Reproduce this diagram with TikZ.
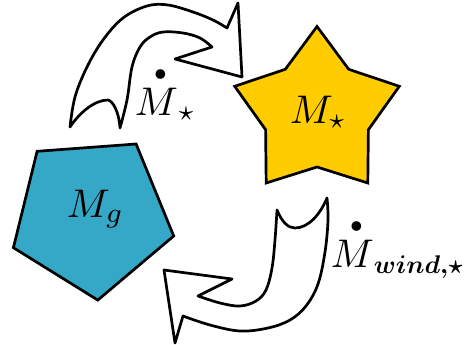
\documentclass[tikz,border=0pt]{standalone}
\usepackage{amsmath}
\usepackage{graphicx}
\definecolor{pentblue}{RGB}{54,168,199}
\definecolor{stargold}{RGB}{255,204,0}
\newcommand{\bigdotacc}[1]{\overset{\scriptscriptstyle\kern2pt\bullet}{#1}}
\newcommand{\subbold}[1]{\scalebox{0.64}{$\boldsymbol{#1}$}}
\begin{document}
\begin{tikzpicture}[x=1pt,y=-1pt,
  outl/.style={draw=black,line width=2.7pt,line join=miter},
  comic/.style={outl,fill=white,line join=round},
  lbl/.style={inner sep=0pt,anchor=base west,scale=4,font=\fontsize{10}{12}\selectfont}]
\useasboundingbox (0,0) rectangle (474,345);
% pentagon (gas)
\draw[outl,fill=pentblue] (97.8,300.1) -- (13.4,247.7) -- (37.1,151.3) -- (136.1,144.0) -- (173.7,236.0) -- cycle;
% star
\draw[outl,fill=stargold] (317,26.5) -- (348.7,69.3) -- (399.3,86.3) -- (368.4,129.7) -- (367.8,183.0) -- (317,167) -- (266.2,183.0) -- (265.6,129.7) -- (234.7,86.3) -- (285.3,69.3) -- cycle;
% upper arrow (gas -> stars)
\draw[comic] (70,127) -- plot[smooth,tension=0.6] coordinates {(70,127) (75,97) (87,67) (103,40) (123,18) (147,6) (168,5) (193,12) (213,20) (227,28)}
  -- (238,3) -- (242,77) -- (175,59)
  -- plot[smooth,tension=0.6] coordinates {(212,47) (200,38) (183,33) (163,32) (150,37) (140,47) (132,67) (127,100) (120,128)}
  .. controls (119,112) and (113,101) .. (108,100) .. controls (95,100) and (80,112) .. cycle;
% lower arrow (stars -> gas)
\draw[comic] (277,210) .. controls (282,222) and (288,228) .. (295,228) .. controls (308,228) and (320,215) .. (327,198)
  -- plot[smooth,tension=0.6] coordinates {(327,198) (328,220) (325,252) (318,284) (306,306) (290,320) (268,328) (240,331) (210,325) (183,316)}
  -- (175,343) -- (164,270) -- (232,279)
  -- plot[smooth,tension=0.6] coordinates {(198,296) (220,303) (240,306) (256,301) (266,290) (272,268) (275,240) (277,210)}
  -- cycle;
% labels
\node[lbl] (mg) at (66,217) {$M_g$};
\node[lbl] (ms) at (289,123) {$M_\star$};
\node[lbl] (mdot) at (134,115) {${\bigdotacc{M}}_\star$};
\node[lbl] (mwind) at (330,267) {${\bigdotacc{M}}_{\subbold{wind{,}\star}}$};
\end{tikzpicture}
\end{document}
